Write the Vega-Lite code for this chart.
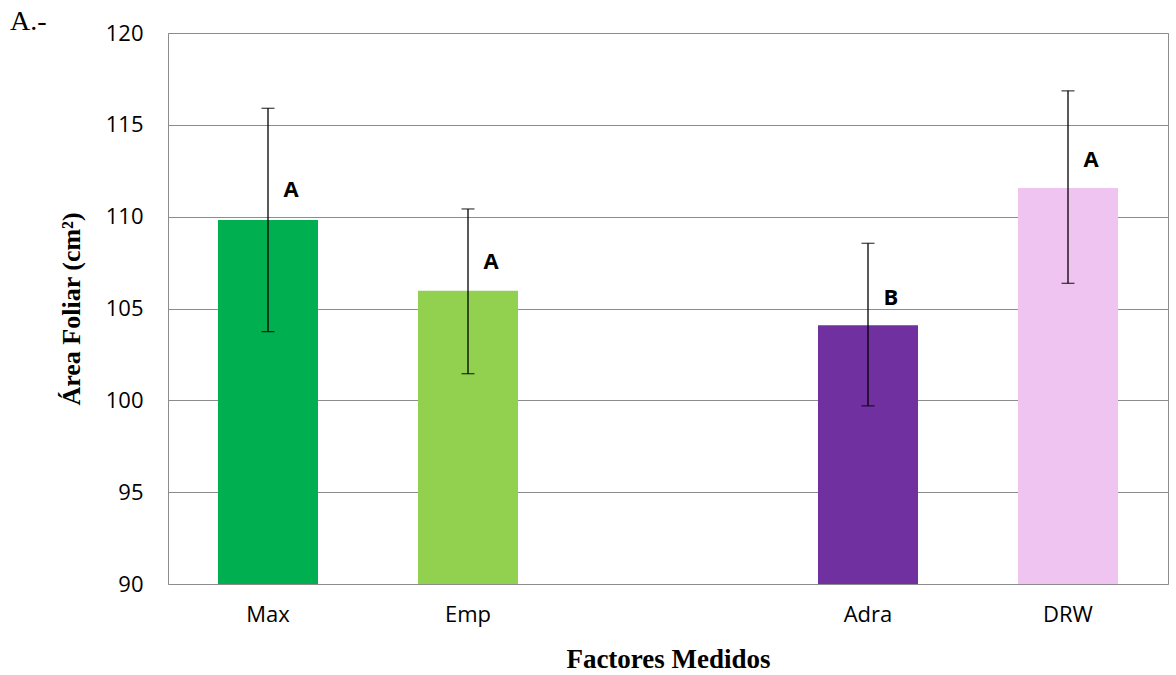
{
  "$schema": "https://vega.github.io/schema/vega-lite/v6.json",
  "width": 1000,
  "height": 551,
  "autosize": "none",
  "padding": {"left": 168, "top": 33, "right": 8, "bottom": 91},
  "background": "white",
  "title": {"text": "A.-", "anchor": "start", "frame": "group", "dx": -158, "offset": -36, "baseline": "alphabetic", "font": "Liberation Serif", "fontSize": 28, "fontWeight": "normal", "color": "black"},
  "config": {
    "view": {"stroke": "#8c8c8c", "strokeWidth": 1},
    "axis": {"labelFont": "Open Sans", "labelFontSize": 22, "labelColor": "black", "ticks": false, "domain": false, "titleFont": "Liberation Serif", "titleFontSize": 27, "titleFontWeight": "bold", "titleColor": "black"}
  },
  "data": {"values": [
    {"cat": "Max", "mean": 109.82, "lo": 103.74, "hi": 115.9, "letter": "A", "ly": 111.45},
    {"cat": "Emp", "mean": 105.96, "lo": 101.45, "hi": 110.42, "letter": "A", "ly": 107.53},
    {"cat": "Adra", "mean": 104.09, "lo": 99.7, "hi": 108.55, "letter": "B", "ly": 105.57},
    {"cat": "DRW", "mean": 111.56, "lo": 106.37, "hi": 116.85, "letter": "A", "ly": 113.09}
  ]},
  "encoding": {
    "x": {"field": "cat", "type": "nominal", "sort": null,
      "scale": {"domain": ["Max", "Emp", " ", "Adra", "DRW"], "paddingInner": 0.5, "paddingOuter": 0.25},
      "axis": {"title": "Factores Medidos", "labelAngle": 0, "labelPadding": 20, "titlePadding": 21, "grid": false}}
  },
  "layer": [
    {
      "mark": {"type": "bar"},
      "encoding": {
        "y": {"field": "mean", "type": "quantitative",
          "scale": {"domain": [90, 120], "zero": false, "nice": false},
          "axis": {"title": "Área Foliar (cm²)", "values": [90, 95, 100, 105, 110, 115, 120], "labelPadding": 25, "titlePadding": 21, "titleFontSize": 26, "grid": true, "gridColor": "#8c8c8c", "gridWidth": 1}},
        "y2": {"datum": 90},
        "color": {"field": "cat", "type": "nominal", "legend": null,
          "scale": {"domain": ["Max", "Emp", "Adra", "DRW"], "range": ["#00B050", "#92D050", "#7030A0", "#F0C4F0"]}}
      }
    },
    {
      "mark": {"type": "rule", "color": "black", "strokeWidth": 1.3},
      "encoding": {"y": {"field": "lo", "type": "quantitative"}, "y2": {"field": "hi"}}
    },
    {
      "mark": {"type": "tick", "color": "black", "thickness": 1.3, "size": 13},
      "encoding": {"y": {"field": "lo", "type": "quantitative"}}
    },
    {
      "mark": {"type": "tick", "color": "black", "thickness": 1.3, "size": 13},
      "encoding": {"y": {"field": "hi", "type": "quantitative"}}
    },
    {
      "mark": {"type": "text", "font": "Open Sans", "fontSize": 22, "fontWeight": "bold", "color": "black", "dx": 23, "baseline": "middle"},
      "encoding": {"y": {"field": "ly", "type": "quantitative"}, "text": {"field": "letter"}}
    }
  ]
}
